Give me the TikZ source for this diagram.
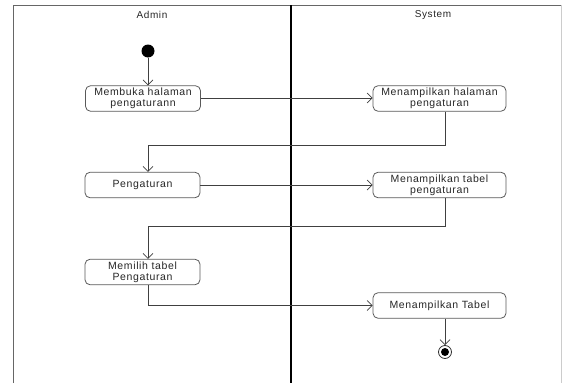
\documentclass[tikz,border=0pt]{standalone}
\usepackage{fontspec}
\setmainfont{Liberation Sans}[LetterSpace=6]
\usetikzlibrary{arrows.meta,calc}
\begin{document}
\begin{tikzpicture}[x=1pt,y=-1pt,
  act/.style={draw=black!65,line width=0.8pt,rounded corners=5pt,align=center,
    font=\fontsize{10.5}{11}\selectfont,text=black!85,inner sep=1pt},
  adm/.style={act,minimum width=115pt,minimum height=25.5pt},
  sys/.style={act,minimum width=133pt,minimum height=25.5pt},
  flow/.style={draw=black!75,line width=0.7pt,-{Straight Barb[length=5pt,width=10pt]}},
  lane/.style={draw=black!60,line width=0.8pt},
  hdr/.style={font=\fontsize{10}{12}\selectfont,text=black!85}]
\useasboundingbox (0,0) rectangle (565,383);
% swimlane frame
\draw[lane] (13,383) -- (13,5) -- (561,5);
\draw[draw=black!20,line width=0.6pt] (561,5) -- (561,383);
\draw[line width=1.4pt,black] (291,5) -- (291,383);
\node[hdr] (hadmin) at (152,15) {Admin};
\node[hdr] (hsys) at (433,15) {System};
% start and end
\node[circle,fill=black,minimum size=13pt,inner sep=0pt] (start) at (148,51) {};
\node[circle,draw=black!80,line width=0.8pt,minimum size=13pt,inner sep=0pt] (stop) at (445,352) {};
\node[circle,fill=black,minimum size=8pt,inner sep=0pt] (stopin) at (stop) {};
% activities
\node[adm] (a1) at (143,98.5) {Membuka halaman\\pengaturann};
\node[sys] (s1) at (439.5,98.5) {Menampilkan halaman\\pengaturan};
\node[adm] (a2) at (142.5,185) {Pengaturan};
\node[sys] (s2) at (439.5,185) {Menampilkan tabel\\pengaturan};
\node[adm] (a3) at (142.5,272) {Memilih tabel\\Pengaturan};
\node[sys] (s3) at (439.5,305.5) {Menampilkan Tabel};
% bend points
\coordinate (b1a) at (445,145);
\coordinate (b1b) at (148,145);
\coordinate (b2a) at (445,226);
\coordinate (b2b) at (148,226);
\coordinate (b3) at (148,305.5);
% flows
\draw[flow] (start) -- (start |- a1.north);
\draw[flow] (a1.east |- 0,98) -- (s1.west |- 0,98);
\draw[flow] (b1a |- s1.south) -- (b1a) -- (b1b) -- (b1b |- a2.north);
\draw[flow] (a2) -- (s2);
\draw[flow] (b2a |- s2.south) -- (b2a) -- (b2b) -- (b2b |- a3.north);
\draw[flow] (b3 |- a3.south) -- (b3) -- (s3.west);
\draw[flow] (stop |- s3.south) -- (stop.north);
\end{tikzpicture}
\end{document}
